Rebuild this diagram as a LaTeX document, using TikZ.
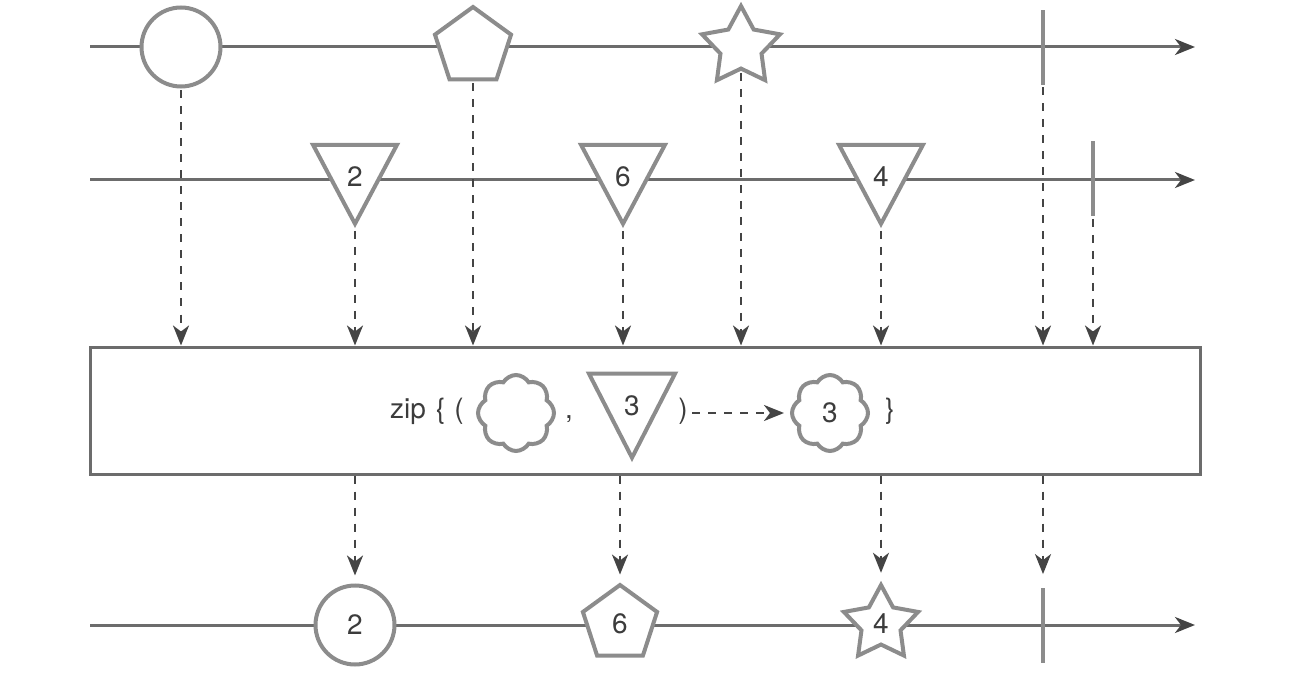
\documentclass[tikz,border=0pt]{standalone}
\usepackage{fontspec}
\setmainfont{TeX Gyre Heros}
\usetikzlibrary{arrows.meta, positioning, shapes.geometric, shapes.symbols}
\definecolor{shapegray}{RGB}{140,140,140}
\definecolor{linegray}{RGB}{108,108,108}
\definecolor{dashgray}{RGB}{68,68,68}
\definecolor{textgray}{RGB}{60,60,60}

\begin{document}
\begin{tikzpicture}[x=0.5pt, y=-0.5pt, >={Stealth[length=10pt, width=8pt, inset=3pt]},
    every node/.style={font=\fontsize{14}{16}\selectfont, text=textgray, inner sep=0pt},
    item/.style={draw=shapegray, line width=2pt, fill=white},
    ball/.style={item, circle, minimum size=39.5pt},
    pent/.style={item, regular polygon, regular polygon sides=5, minimum size=40pt},
    starm/.style={item, star, star points=5, star point ratio=1.9, minimum size=41pt},
    tri/.style={item, isosceles triangle, isosceles triangle stretches, shape border rotate=270, minimum height=39.5pt, minimum width=42pt},
    puff/.style={item, cloud, cloud puffs=8, cloud puff arc=120, aspect=1, minimum width=38pt, minimum height=38pt},
    endmark/.style={fill=shapegray, minimum width=2pt, minimum height=37.5pt},
    timeline/.style={line width=1.5pt, draw=linegray, -{Stealth[length=10pt, width=8pt, inset=3pt, color=dashgray]}},
    feed/.style={line width=1.2pt, draw=dashgray, dash pattern=on 4pt off 4pt, ->}]
    \useasboundingbox (0,0) rectangle (1308,674);

    % Time lines
    \foreach \y/\n in {47/top, 180/mid, 625/out} {
        \coordinate (\n-start) at (90,\y);
        \coordinate (\n-end) at (1195,\y);
        \draw[timeline] (\n-start) -- (\n-end);
    }

    % First source
    \node[ball] (c1) at (181,47) {};
    \node[pent] (p1) at (473,47) {};
    \node[starm] (s1) at (741,47) {};
    \node[endmark] (e1) at (1043,47.5) {};

    % Second source
    \node[tri, label={[yshift=-3.5pt]center:2}] (t2) at (355,170) {};
    \node[tri, label={[yshift=-3.5pt]center:6}] (t6) at (623,170) {};
    \node[tri, label={[yshift=-3.5pt]center:4}] (t4) at (881,170) {};
    \node[endmark] (e2) at (1093,179) {};

    % Operator box
    \node[draw=linegray, line width=1.5pt, minimum width=555pt, minimum height=63.5pt] (zip) at (645,410.5) {};
    \node[anchor=base east] (ztxt) at (464,418) {zip\hspace{5pt}\{\hspace{4.5pt}(};
    \node[puff] (k1) at (516,413) {};
    \node[anchor=base] (comma) at (569,418) {,};
    \node[tri, minimum height=42pt, minimum width=43pt, label={[yshift=-3pt]center:3}] (t3) at (632,400) {};
    \node[anchor=base] (rp) at (683,418) {)};
    \node[puff] (k3) at (830,413) {3};
    \node[anchor=base] (rb) at (890,418) {\}};
    \draw[feed, shorten <=2pt, shorten >=3pt] (rp.east |- k3.west) -- (k3.west);

    % Into the operator
    \foreach \n in {c1, p1, s1, e1, t2, t6, t4, e2}
        \draw[feed, shorten <=1pt] (\n.south) -- (\n.south |- zip.north);

    % Result
    \node[ball] (c2) at (355,625) {2};
    \node[pent, minimum size=39pt] (p6) at (620,624) {6};
    \node[starm, minimum size=39pt] (s4) at (881,624) {4};
    \node[endmark] (e3) at (1043,625) {};
    \foreach \b/\s in {c2/4pt, p6/4pt, s4/4pt, e3/6.5pt}
        \draw[feed, shorten >=\s] (\b.north |- zip.south) -- (\b.north);
\end{tikzpicture}
\end{document}
